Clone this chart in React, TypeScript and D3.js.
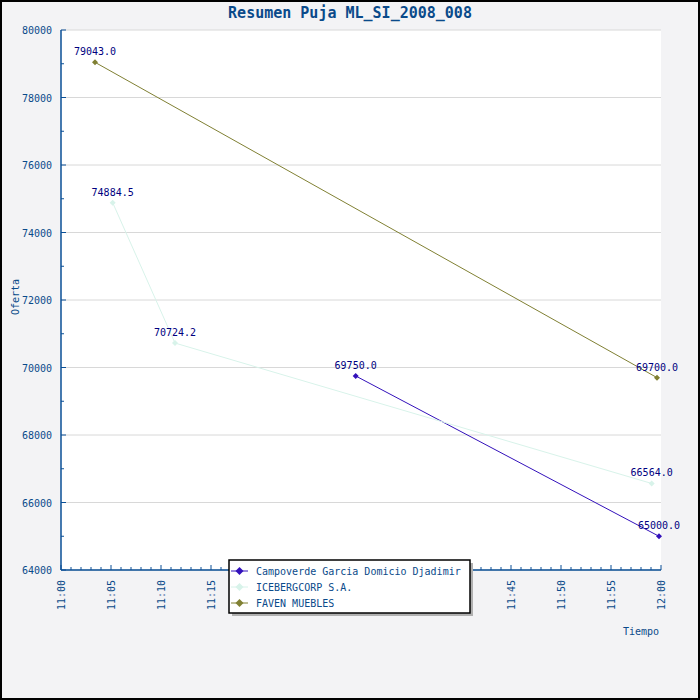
import * as d3 from "d3";

const seriesNames = [
  "Campoverde Garcia Domicio Djadimir",
  "ICEBERGCORP S.A.",
  "FAVEN MUEBLES"
];
const seriesColors = ["#3311bb", "#d8f3ea", "#808033"];

const campoverdeTimes = ["11:29:28", "11:59:48"];
const campoverdeValues = [69750.0, 65000.0];
const icebergTimes = ["11:05:10", "11:11:24", "11:59:04"];
const icebergValues = [74884.5, 70724.2, 66564.0];
const favenTimes = ["11:03:24", "11:59:36"];
const favenValues = [79043.0, 69700.0];

const timeTicks = ["11:00", "11:05", "11:10", "11:15", "11:20", "11:25", "11:30", "11:35", "11:40", "11:45", "11:50", "11:55", "12:00"];
const yDomain = [64000, 80000];

const width = 700;
const height = 700;
const plot = { left: 61, right: 661, top: 30, bottom: 570 };
const axisColor = "#0a4f96";
const textColor = "#0a4a8a";
const font = "'DejaVu Sans Mono', 'Liberation Mono', monospace";

const parseTime = d3.timeParse("%H:%M:%S");
const parseTick = d3.timeParse("%H:%M");

interface Series {
  readonly name: string;
  readonly color: string;
  readonly points: readonly { t: Date; v: number }[];
}

const series: Series[] = [
  [campoverdeTimes, campoverdeValues],
  [icebergTimes, icebergValues],
  [favenTimes, favenValues]
].map(([times, values], i) => ({
  name: seriesNames[i],
  color: seriesColors[i],
  points: (times as string[]).map((t, j) => ({ t: parseTime(t) as Date, v: (values as number[])[j] }))
}));

function Diamond({ x, y, color, r = 3 }: { x: number; y: number; color: string; r?: number }) {
  return <path d={`M${x},${y - r}L${x + r},${y}L${x},${y + r}L${x - r},${y}Z`} fill={color} />;
}

export default function App() {
  const tickDates = timeTicks.map((t) => parseTick(t) as Date);
  const x = d3
    .scaleTime()
    .domain([tickDates[0], tickDates[tickDates.length - 1]])
    .range([plot.left, plot.right]);
  const y = d3.scaleLinear().domain(yDomain).range([plot.bottom, plot.top]);
  const minorX = x.ticks(d3.timeMinute.every(1) as d3.TimeInterval);
  const majorY = d3.range(yDomain[0], yDomain[1] + 1, 2000);
  const minorY = d3.range(yDomain[0], yDomain[1] + 1, 1000);
  const pathLine = d3
    .line<{ t: Date; v: number }>()
    .x((d) => x(d.t))
    .y((d) => y(d.v));

  const legend = { x: 229, y: 560, w: 241, h: 53 };

  return (
    <svg
      width={width}
      height={height}
      style={{ position: "absolute", left: 0, top: 0, fontFamily: font }}
    >
      <rect x={0} y={0} width={width} height={height} fill="#f3f3f5" />
      <rect x={1} y={1} width={width - 2} height={height - 2} fill="none" stroke="#000" strokeWidth={2} />
      <rect x={plot.left} y={plot.top} width={plot.right - plot.left} height={plot.bottom - plot.top} fill="#fff" />

      {majorY.map((v) => (
        <line key={`g${v}`} x1={plot.left} x2={plot.right} y1={y(v)} y2={y(v)} stroke="#d8d8d8" />
      ))}

      <text x={width / 2} y={18} textAnchor="middle" fontSize={15} fontWeight="bold" fill={textColor}>
        Resumen Puja ML_SI_2008_008
      </text>

      {/* y axis */}
      <line x1={plot.left} x2={plot.left} y1={plot.top} y2={plot.bottom} stroke={axisColor} strokeWidth={1.5} />
      {minorY.map((v) => (
        <line
          key={`yt${v}`}
          x1={plot.left}
          x2={plot.left + (v % 2000 === 0 ? 5 : 3)}
          y1={y(v)}
          y2={y(v)}
          stroke={axisColor}
        />
      ))}
      {majorY.map((v) => (
        <text key={`yl${v}`} x={52} y={y(v) + 4} textAnchor="end" fontSize={10} fill={textColor}>
          {v}
        </text>
      ))}
      <text transform="translate(19,297) rotate(-90)" textAnchor="middle" fontSize={10} fill={textColor}>
        Oferta
      </text>

      {/* x axis */}
      <line x1={plot.left} x2={plot.right} y1={plot.bottom} y2={plot.bottom} stroke={axisColor} strokeWidth={1.5} />
      {minorX.map((d) => (
        <line
          key={`xt${+d}`}
          x1={x(d)}
          x2={x(d)}
          y1={plot.bottom}
          y2={plot.bottom - (d.getMinutes() % 5 === 0 ? 5 : 3)}
          stroke={axisColor}
        />
      ))}
      {tickDates.map((d, i) => (
        <text
          key={`xl${i}`}
          transform={`translate(${x(d) + 4},${580}) rotate(-90)`}
          textAnchor="end"
          fontSize={10}
          fill={textColor}
        >
          {timeTicks[i]}
        </text>
      ))}
      <text x={659} y={635} textAnchor="end" fontSize={10} fill={textColor}>
        Tiempo
      </text>

      {/* series */}
      {series.map((s) => (
        <g key={s.name}>
          <path d={pathLine(s.points as { t: Date; v: number }[]) ?? ""} fill="none" stroke={s.color} strokeWidth={1} />
          {s.points.map((p, j) => (
            <g key={j}>
              <Diamond x={x(p.t)} y={y(p.v)} color={s.color} />
              <text x={x(p.t)} y={y(p.v) - 7} textAnchor="middle" fontSize={10} fill="#000080">
                {p.v.toFixed(1)}
              </text>
            </g>
          ))}
        </g>
      ))}

      {/* legend */}
      <rect x={legend.x + 3} y={legend.y + 3} width={legend.w} height={legend.h} fill="#b0b0b0" />
      <rect x={legend.x} y={legend.y} width={legend.w} height={legend.h} fill="#fff" stroke="#000" strokeWidth={1.5} />
      {series.map((s, i) => {
        const ly = legend.y + 11 + i * 16;
        return (
          <g key={`lg${i}`}>
            <line x1={legend.x + 2} x2={legend.x + 19} y1={ly} y2={ly} stroke={s.color} />
            <Diamond x={legend.x + 10.5} y={ly} color={s.color} r={4} />
            <text x={legend.x + 27} y={ly + 4} fontSize={10} fill={textColor}>
              {s.name}
            </text>
          </g>
        );
      })}
    </svg>
  );
}
